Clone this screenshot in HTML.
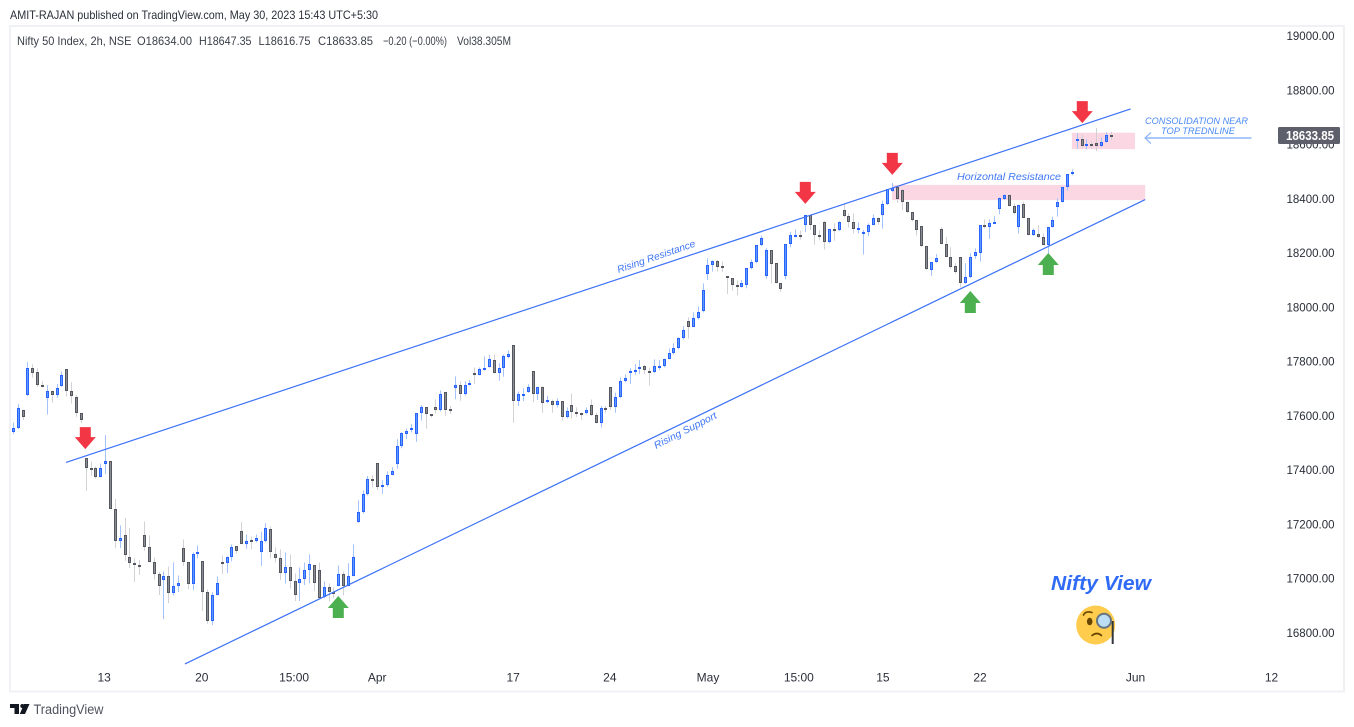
<!DOCTYPE html>
<html lang="en">
<head>
<meta charset="utf-8">
<title>Nifty 50 Index 2h chart</title>
<style>
html,body{margin:0;padding:0;background:#fff;width:1354px;height:727px;overflow:hidden}
svg{display:block;font-family:"Liberation Sans",sans-serif;filter:blur(0.3px)}
</style>
</head>
<body>
<svg id="chart" width="1354" height="727" viewBox="0 0 1354 727" xmlns="http://www.w3.org/2000/svg">
  <rect x="0" y="0" width="1354" height="727" fill="#ffffff"/>
  <text x="10" y="19" font-size="12" fill="#2a2e39" textLength="368" lengthAdjust="spacingAndGlyphs">AMIT-RAJAN published on TradingView.com, May 30, 2023 15:43 UTC+5:30</text>
  <rect x="10" y="26" width="1334" height="665.5" fill="none" stroke="#f0f1f5" stroke-width="2"/>
  <g font-size="12" fill="#3c4049">
    <text x="17" y="45" textLength="114.5" lengthAdjust="spacingAndGlyphs">Nifty 50 Index, 2h, NSE</text>
    <text x="137" y="45" textLength="55" lengthAdjust="spacingAndGlyphs">O18634.00</text>
    <text x="199" y="45" textLength="52.5" lengthAdjust="spacingAndGlyphs">H18647.35</text>
    <text x="258.5" y="45" textLength="52" lengthAdjust="spacingAndGlyphs">L18616.75</text>
    <text x="318" y="45" textLength="55" lengthAdjust="spacingAndGlyphs">C18633.85</text>
    <text x="383" y="45" textLength="64" lengthAdjust="spacingAndGlyphs">−0.20 (−0.00%)</text>
    <text x="457" y="45" textLength="54" lengthAdjust="spacingAndGlyphs">Vol38.305M</text>
  </g>
  <g id="zones"></g>
  <g id="price-axis"></g>
  <g id="time-axis"></g>
  <g id="candles"></g>
  <g id="trendlines"></g>
  <g id="arrows"></g>
  <g font-style="italic" fill="#3f76f5">
    <text transform="translate(618.5 273) rotate(-19)" font-size="10" textLength="82" lengthAdjust="spacingAndGlyphs">Rising Resistance</text>
    <text transform="translate(656 449) rotate(-27)" font-size="10" textLength="69" lengthAdjust="spacingAndGlyphs">Rising Support</text>
    <text x="957" y="180" font-size="10.5" textLength="104" lengthAdjust="spacingAndGlyphs">Horizontal Resistance</text>
    <text x="1145" y="124" font-size="9.5" fill="#4a8af4" textLength="103" lengthAdjust="spacingAndGlyphs">CONSOLIDATION NEAR</text>
    <text x="1161" y="134" font-size="9.5" fill="#4a8af4" textLength="74" lengthAdjust="spacingAndGlyphs">TOP TREDNLINE</text>
    <text x="1051" y="590" font-size="20.5" font-weight="700" fill="#2f6bf5" textLength="100" lengthAdjust="spacingAndGlyphs">Nifty View</text>
  </g>
  <g fill="none" stroke="#8fb6f8">
    <path d="M1251.5 138H1146" stroke-width="1.6"/>
    <path d="M1151 132.5L1145 138L1151 143.5" stroke-width="1.2"/>
  </g>
  <g>
    <circle cx="1095.7" cy="625" r="19.5" fill="#ffcc4d"/>
    <ellipse cx="1089.7" cy="621.5" rx="2.8" ry="3.8" fill="#664500"/>
    <path d="M1083.5 615Q1085.5 610.5 1092 612.5" fill="none" stroke="#664500" stroke-width="1.6" stroke-linecap="round"/>
    <path d="M1092 635.5Q1097 631.5 1101.5 635.5" fill="none" stroke="#664500" stroke-width="1.6" stroke-linecap="round"/>
    <path d="M1112.7 621V644" stroke="#31373d" stroke-width="2"/>
    <circle cx="1104" cy="620.7" r="7" fill="#bbddf5" stroke="#66757f" stroke-width="2"/>
  </g>
  <g>
    <rect x="1278" y="127" width="62" height="17" rx="1.5" fill="#5d606b"/>
    <text x="1286" y="140" font-size="12.5" font-weight="700" fill="#ffffff" textLength="48" lengthAdjust="spacingAndGlyphs">18633.85</text>
  </g>
  <g>
    <path d="M10 704H19V714H14.5V708H10ZM24 704H29.5L25 714H19.8Z" fill="#131722"/>
    <circle cx="22.3" cy="706" r="2" fill="#131722"/>
    <text x="33.5" y="714" font-size="13.5" fill="#50535e" textLength="70" lengthAdjust="spacingAndGlyphs">TradingView</text>
  </g>
</svg>
<script>
const priceTicks = [19000,18800,18600,18400,18200,18000,17800,17600,17400,17200,17000,16800];
const timeLabels = ['13','20','15:00','Apr','17','24','May','15:00','15','22','Jun','12'];
const timeLabelBars = [18.7,38.8,57.8,74.9,102.9,122.8,143,161.7,179,199,231,259];

const opens = [17541,17556,17623,17677,17775,17760,17715,17664,17693,17675,
17708,17771,17693,17668,17609,17443,17409,17409,17376,17421,
17432,17258,17137,17159,17081,17056,17048,17162,17115,17059,
17015,16993,17011,16945,16974,17111,17059,16978,17089,17063,
16949,16842,16941,17059,17056,17081,17118,17174,17129,17142,
17137,17096,17137,17181,17092,17074,17022,17044,16989,16982,
16997,17030,17048,17030,16930,16967,16952,16974,17015,16974,
17011,17207,17247,17310,17365,17424,17336,17343,17380,17421,
17487,17531,17546,17531,17609,17631,17605,17634,17620,17686,
17625,17704,17712,17679,17712,17756,17751,17770,17781,17804,
17756,17775,17815,17859,17653,17679,17686,17764,17679,17705,
17649,17653,17638,17653,17594,17638,17612,17609,17609,17638,
17601,17572,17627,17705,17634,17668,17727,17759,17762,17771,
17782,17764,17760,17781,17782,17811,17830,17848,17885,17948,
17929,17959,17985,18122,18154,18169,18151,18114,18106,18081,
18076,18081,18143,18165,18228,18114,18210,18162,18088,18117,
18232,18264,18265,18302,18339,18302,18266,18313,18239,18288,
18283,18357,18335,18313,18290,18272,18276,18305,18328,18339,
18379,18428,18442,18431,18387,18350,18320,18298,18224,18139,
18166,18287,18232,18184,18151,18184,18088,18110,18188,18199,
18302,18295,18309,18361,18398,18413,18372,18295,18379,18328,
18265,18269,18258,18228,18295,18368,18387,18442,18490,18618,
18619,18593,18601,18604,18593,18608,18634];
const highs = [17575,17643,17623,17798,17790,17775,17727,17713,17693,17717,
17763,17771,17724,17676,17609,17443,17432,17413,17424,17529,
17432,17293,17196,17223,17186,17074,17068,17210,17159,17078,
17025,17026,17044,17059,17011,17144,17059,17096,17122,17063,
16960,16949,17008,17085,17081,17126,17118,17208,17162,17155,
17162,17172,17204,17192,17115,17107,17096,17089,17019,17041,
17059,17089,17048,17059,16989,16982,16967,17048,17026,17056,
17126,17288,17325,17378,17381,17424,17362,17395,17411,17514,
17539,17553,17569,17609,17639,17633,17605,17660,17693,17686,
17636,17745,17727,17727,17732,17778,17778,17819,17824,17826,
17793,17826,17841,17859,17690,17701,17716,17764,17705,17709,
17673,17660,17664,17653,17631,17682,17631,17612,17631,17660,
17611,17636,17636,17705,17685,17741,17752,17775,17791,17805,
17787,17778,17808,17805,17811,17848,17867,17889,17931,17963,
17981,18003,18088,18180,18173,18176,18169,18114,18106,18099,
18100,18143,18176,18228,18265,18217,18210,18162,18088,18232,
18278,18287,18283,18339,18342,18302,18283,18319,18287,18309,
18317,18383,18346,18346,18313,18285,18309,18342,18331,18393,
18435,18458,18442,18431,18390,18350,18320,18298,18224,18166,
18196,18295,18259,18221,18162,18184,18162,18199,18217,18302,
18324,18324,18336,18405,18416,18416,18383,18376,18389,18328,
18291,18303,18272,18295,18334,18402,18442,18490,18508,18641,
18637,18619,18612,18661,18626,18645,18647];
const lows = [17532,17551,17584,17672,17741,17707,17704,17604,17648,17666,
17707,17671,17645,17596,17573,17323,17379,17368,17376,17385,
17258,17112,17112,17065,17038,16987,17013,17102,17059,16997,
16939,16850,16909,16938,16950,17046,16961,16957,17075,16880,
16833,16828,16938,17016,17020,17063,17092,17129,17110,17108,
17133,17046,17133,17074,17059,16994,16982,16963,16917,16917,
16976,16982,16954,16925,16927,16915,16927,16971,16938,16971,
17008,17205,17239,17306,17336,17326,17312,17338,17380,17405,
17480,17514,17539,17504,17582,17552,17594,17609,17616,17600,
17607,17661,17655,17675,17711,17718,17749,17767,17778,17756,
17729,17744,17811,17574,17636,17654,17685,17650,17658,17611,
17646,17611,17631,17582,17590,17590,17596,17585,17605,17599,
17572,17557,17611,17621,17611,17665,17724,17717,17751,17755,
17754,17711,17756,17768,17779,17808,17826,17845,17881,17885,
17928,17955,17981,18100,18132,18132,18130,18049,18061,18044,
18073,18070,18140,18162,18226,18106,18088,18088,18057,18103,
18221,18258,18250,18277,18285,18231,18250,18213,18235,18245,
18281,18331,18294,18272,18272,18194,18262,18302,18305,18290,
18377,18425,18385,18358,18347,18317,18264,18221,18137,18116,
18164,18232,18184,18143,18125,18073,18086,18107,18179,18168,
18291,18252,18309,18343,18395,18372,18343,18272,18328,18265,
18263,18254,18228,18199,18293,18334,18386,18430,18486,18585,
18588,18582,18585,18575,18590,18607,18617];
const closes = [17553,17627,17594,17775,17756,17715,17707,17693,17675,17704,
17752,17693,17671,17609,17586,17409,17406,17376,17409,17432,
17258,17137,17151,17085,17056,17048,17041,17115,17059,17015,
16971,17011,16945,16974,16982,17059,16978,17089,17096,16952,
16845,16941,16985,17056,17081,17115,17103,17129,17140,17139,
17151,17137,17185,17096,17074,17022,17044,16989,16941,17000,
17030,17052,16982,16929,16967,16952,16949,17015,16974,17011,
17078,17247,17310,17365,17358,17336,17343,17380,17395,17487,
17535,17542,17553,17609,17631,17605,17598,17620,17682,17623,
17622,17712,17682,17712,17719,17751,17771,17775,17811,17756,
17775,17819,17826,17653,17679,17682,17705,17679,17705,17646,
17657,17638,17653,17594,17616,17612,17609,17607,17623,17601,
17572,17627,17623,17634,17668,17727,17741,17764,17767,17778,
17767,17760,17782,17783,17811,17830,17848,17885,17915,17929,
17959,17981,18062,18154,18169,18147,18147,18106,18081,18073,
18088,18143,18165,18228,18254,18210,18158,18088,18066,18232,
18265,18266,18261,18339,18302,18265,18264,18239,18287,18286,
18313,18335,18313,18287,18294,18276,18305,18328,18313,18379,
18435,18438,18398,18387,18350,18320,18283,18224,18140,18166,
18180,18232,18184,18147,18129,18088,18110,18184,18202,18302,
18295,18309,18313,18402,18413,18372,18346,18376,18328,18265,
18284,18258,18228,18295,18320,18387,18442,18490,18497,18620,
18593,18601,18597,18593,18608,18634,18633.85];

const resistanceBars = [10.85,230];
const resistancePrices = [17428,18731];
const supportBars = [35.34,233];
const supportPrices = [16685,18397];

const zoneNames = ['horizontal-resistance-zone','consolidation-zone'];
const zoneStartBars = [180.9,217.9];
const zoneEndBars = [233,230.9];
const zoneTopPrices = [18451,18643.5];
const zoneBottomPrices = [18395,18583];

const redArrowBars = [14.82,163.03,180.94,220.05];
const redArrowPrices = [17477,18381,18488,18679];
const greenArrowBars = [66.9,197,213.05];
const greenArrowPrices = [16935.5,18060,18200];

const SVG_NS = 'http://www.w3.org/2000/svg';
function xOf(bar){ return 13.3 + 4.858 * bar; }
function yOf(price){ return 36 + (19000 - price) * 0.27125; }
function make(tag, parent){
  const el = document.createElementNS(SVG_NS, tag);
  parent.appendChild(el);
  return el;
}

const zonesLayer = document.getElementById('zones');
zoneNames.forEach(function(name, i){
  const r = make('rect', zonesLayer);
  
  
  r.setAttribute('x', xOf(zoneStartBars[i]));
  r.setAttribute('y', yOf(zoneTopPrices[i]));
  r.setAttribute('width', xOf(zoneEndBars[i]) - xOf(zoneStartBars[i]));
  r.setAttribute('height', yOf(zoneBottomPrices[i]) - yOf(zoneTopPrices[i]));
  r.setAttribute('fill', '#fbd7e3');
});

const priceAxis = document.getElementById('price-axis');
priceTicks.forEach(function(p){
  const t = make('text', priceAxis);
  
  
  t.setAttribute('x', 1286.5);
  t.setAttribute('y', yOf(p) + 4);
  t.setAttribute('font-size', '12');
  t.setAttribute('fill', '#2a2e39');
  t.setAttribute('textLength', '48');
  t.setAttribute('lengthAdjust', 'spacingAndGlyphs');
  t.textContent = p.toFixed(2);
});

const timeAxis = document.getElementById('time-axis');
timeLabels.forEach(function(label, i){
  const t = make('text', timeAxis);
  
  
  t.setAttribute('x', xOf(timeLabelBars[i]));
  t.setAttribute('y', 681.5);
  t.setAttribute('font-size', '12');
  t.setAttribute('fill', '#2a2e39');
  t.setAttribute('text-anchor', 'middle');
  t.textContent = label;
});

const candleLayer = document.getElementById('candles');
opens.forEach(function(o, i){
  const c = closes[i];
  const up = c >= o;
  const px = Math.floor(xOf(i));
  const g = make('g', candleLayer);
  
  
  const wick = make('line', g);
  
  
  wick.setAttribute('x1', px + 0.5);
  wick.setAttribute('x2', px + 0.5);
  wick.setAttribute('y1', yOf(highs[i]));
  wick.setAttribute('y2', yOf(lows[i]));
  wick.setAttribute('stroke', up ? '#a4c3fa' : '#d2d2d6');
  wick.setAttribute('stroke-width', '1');
  const top = Math.round(yOf(Math.max(o, c)));
  let bottom = Math.round(yOf(Math.min(o, c)));
  if (bottom - top < 2) bottom = top + 2;
  const body = make('rect', g);
  
  
  body.setAttribute('x', px - 0.5);
  body.setAttribute('y', top + 0.5);
  body.setAttribute('width', 2);
  body.setAttribute('height', bottom - top - 1);
  body.setAttribute('fill', up ? '#5b9cf6' : '#8b8d95');
  body.setAttribute('stroke', up ? '#2962ff' : '#55575f');
  body.setAttribute('stroke-width', '1');
});

const trendLayer = document.getElementById('trendlines');
const resistanceLine = make('line', trendLayer);


resistanceLine.setAttribute('x1', xOf(resistanceBars[0]));
resistanceLine.setAttribute('y1', yOf(resistancePrices[0]));
resistanceLine.setAttribute('x2', xOf(resistanceBars[1]));
resistanceLine.setAttribute('y2', yOf(resistancePrices[1]));
resistanceLine.setAttribute('stroke', '#3d72f6');
resistanceLine.setAttribute('stroke-width', '1.2');
const supportLine = make('line', trendLayer);


supportLine.setAttribute('x1', xOf(supportBars[0]));
supportLine.setAttribute('y1', yOf(supportPrices[0]));
supportLine.setAttribute('x2', xOf(supportBars[1]));
supportLine.setAttribute('y2', yOf(supportPrices[1]));
supportLine.setAttribute('stroke', '#3d72f6');
supportLine.setAttribute('stroke-width', '1.2');

const arrowLayer = document.getElementById('arrows');
redArrowBars.forEach(function(b, i){
  const x = xOf(b);
  const y = yOf(redArrowPrices[i]);
  const a = make('path', arrowLayer);
  
  
  a.setAttribute('d', 'M' + x + ' ' + y + 'l-10.5 -12h5v-10h11v10h5z');
  a.setAttribute('fill', '#f23645');
});
greenArrowBars.forEach(function(b, i){
  const x = xOf(b);
  const y = yOf(greenArrowPrices[i]);
  const a = make('path', arrowLayer);
  
  
  a.setAttribute('d', 'M' + x + ' ' + y + 'l-10.5 12h5v10h11v-10h5z');
  a.setAttribute('fill', '#4caf50');
});
</script>
</body>
</html>
